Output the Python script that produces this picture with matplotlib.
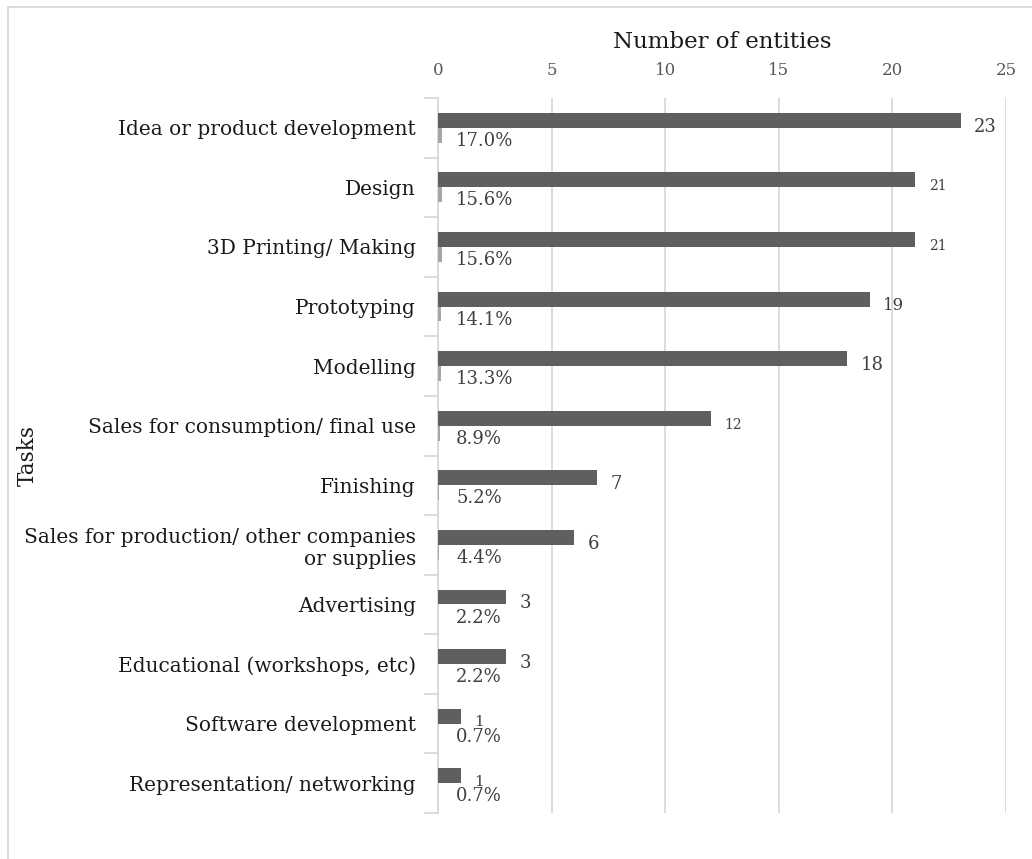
import matplotlib
matplotlib.use("Agg")
import matplotlib.pyplot as plt
from matplotlib.lines import Line2D
import numpy as np

# data
tasks = ["Idea or product development", "Design", "3D Printing/ Making",
         "Prototyping", "Modelling", "Sales for consumption/ final use",
         "Finishing", "Sales for production/ other companies\nor supplies",
         "Advertising", "Educational (workshops, etc)",
         "Software development", "Representation/ networking"]
counts = [23, 21, 21, 19, 18, 12, 7, 6, 3, 3, 1, 1]
shares = [0.170, 0.156, 0.156, 0.141, 0.133, 0.089, 0.052, 0.044,
          0.022, 0.022, 0.007, 0.007]
x_ticks = [0, 5, 10, 15, 20, 25]

# label sizes differ a bit in the original
count_sizes = [13, 10, 10, 12, 13, 10, 13, 13, 13, 13, 11, 11]

font = "DejaVu Serif"
plt.rcParams['font.family'] = [font]

fig = plt.figure(figsize=(10.32, 8.59), dpi=100)
ax = fig.add_axes([438 / 1032, 1 - 813 / 859, (1006 - 438) / 1032, (813 - 98) / 859])

y = np.arange(len(tasks))
h = 0.25
ax.barh(y - h / 2, counts, height=h, color="#5f5f5f", zorder=3)
ax.barh(y + h / 2, shares, height=h, color="#a6a6a6", zorder=3)

for i in range(len(tasks)):
    ax.text(counts[i] + 0.6, y[i] - 0.02, str(counts[i]), va="center", ha="left",
            fontsize=count_sizes[i], color="#404040")
    ax.text(0.8, y[i] + 0.22, "%.1f%%" % (shares[i] * 100), va="center",
            ha="left", fontsize=13, color="#404040")

ax.set_xlim(0, 25)
ax.set_ylim(len(tasks) - 0.5, -0.5)
ax.xaxis.tick_top()
ax.xaxis.set_label_position("top")
ax.set_xticks(x_ticks)
ax.set_xticklabels([str(t) for t in x_ticks], fontsize=12, color="#595959")
ax.tick_params(axis="x", length=0, pad=14)
ax.set_xlabel("Number of entities", fontsize=16.5, color="#1a1a1a", labelpad=10)

ax.set_yticks(y)
ax.set_yticklabels(tasks, fontsize=14.5, color="#1a1a1a", ha="right")
ax.tick_params(axis="y", which="major", length=0, pad=16)
ax.set_yticks(np.arange(len(tasks) + 1) - 0.5, minor=True)
ax.tick_params(axis="y", which="minor", length=10, color="#d9d9d9", width=1.3)
ax.set_ylabel("Tasks", fontsize=15.5, color="#1a1a1a")
ax.yaxis.set_label_coords(-(438 - 39) / (1006 - 438), 0.5)

ax.grid(axis="x", color="#d9d9d9", linewidth=1.3, zorder=0)
for s in ["top", "right", "bottom"]:
    ax.spines[s].set_visible(False)
ax.spines["left"].set_color("#d9d9d9")
ax.spines["left"].set_linewidth(1.3)

# chart area border (only left and top edges are visible in the crop)
fig.add_artist(Line2D([8 / 1032, 8 / 1032], [0, 1 - 7 / 859], color="#d9d9d9", lw=1.3))
fig.add_artist(Line2D([8 / 1032, 1], [1 - 7 / 859, 1 - 7 / 859], color="#d9d9d9", lw=1.3))

fig.savefig("out.png", dpi=100)
